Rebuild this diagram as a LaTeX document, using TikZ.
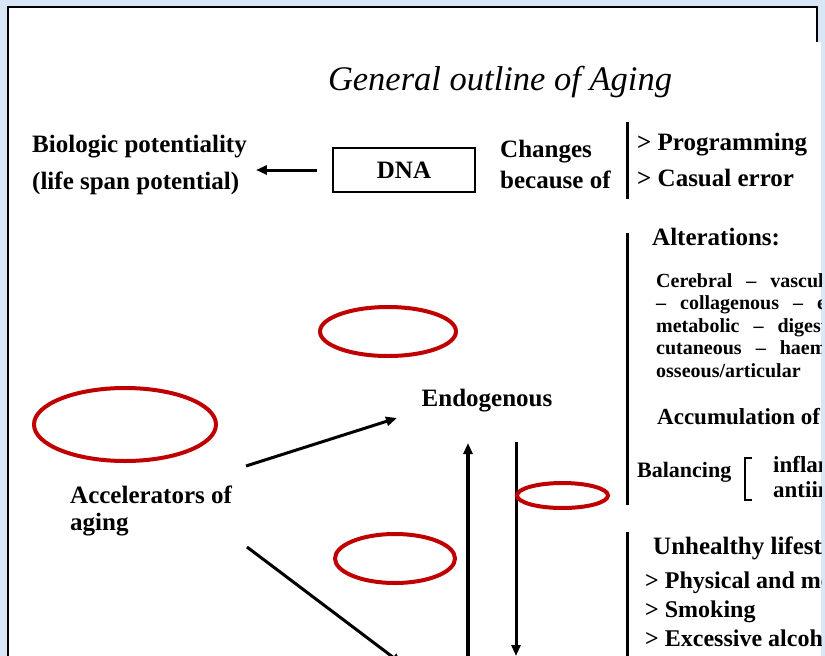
\documentclass[tikz,border=0pt]{standalone}
\usepackage{fontspec}
\setmainfont{Liberation Serif}
\usetikzlibrary{positioning, calc, arrows.meta}
\definecolor{slideblue}{RGB}{216,230,245}
\definecolor{markred}{RGB}{192,0,0}
% wide gaps round the dashes of the organ list
\newcommand{\orgsep}{\hspace{9pt} -- \hspace{9pt}}

\begin{document}
\begin{tikzpicture}[
    x=1pt, y=-1pt,
    % Text styles
    headtext/.style={font=\itshape\fontsize{34.5}{38}\selectfont, inner sep=0pt},
    txt/.style={font=\bfseries\fontsize{25}{31}\selectfont, inner sep=0pt, align=left},
    smalltxt/.style={font=\bfseries\fontsize{20}{22.5}\selectfont, inner sep=0pt, align=left},
    listtxt/.style={font=\bfseries\fontsize{24}{29}\selectfont, inner sep=0pt},
    % Box and bars
    dnabox/.style={draw, line width=2pt, minimum width=142pt, minimum height=44pt,
        inner sep=0pt, font=\bfseries\fontsize{25}{30}\selectfont},
    vbar/.style={line width=3pt},
    % Red marks
    redring/.style={draw=markred, line width=4pt},
    % Arrow style
    arrow/.style={-{Triangle[length=11pt, width=9pt]}, line width=3pt},
]

\useasboundingbox (0,0) rectangle (825,656);

% ===== SLIDE FRAME =====
\fill[slideblue] (0,0) rectangle (825,656);
\fill[white] (8,7) rectangle (817,42);
\fill[white] (9,42) rectangle (821,656);
\draw[line width=2pt] (8,656) -- (8,7) -- (817,7) -- (817,42);

\begin{scope}
\clip (9,42) rectangle (821,656);

% Title
\node[headtext, anchor=base] (title) at (500,90) {General outline of Aging};

% ===== TOP ROW: DNA =====
\node[dnabox] (dna) at (404,170) {DNA};
\node[txt, font=\bfseries\fontsize{25}{37}\selectfont, anchor=base west] (bio) at (32,189)
    {Biologic potentiality\\(life span potential)};
\node[txt, anchor=base west] (cause) at (500,188) {Changes\\because of};

% Left arrow to potentiality
\draw[arrow, shorten <=15pt, shorten >=9pt] (dna.west) -- (dna.west -| bio.east);

% Causes
\draw[vbar] (627,122) -- (627,199);
\node[txt, anchor=base west] (prog) at (637,150) {> Programming};
\node[txt, anchor=base west] (error) at (637,186) {> Casual error};

% ===== ENDOGENOUS BLOCK =====
\draw[vbar] (627,233) -- (627,505);
\node[txt, anchor=base west] (alter) at (652,245) {Alterations:};
\node[smalltxt, anchor=base west] (organs) at (656,377)
    {Cerebral\orgsep vascular\orgsep cardiac\\--\hspace{9pt} collagenous\orgsep endocrine\\metabolic\orgsep digestive\\cutaneous\orgsep haemopoietic\\osseous/articular};
\node[txt, font=\bfseries\fontsize{23}{28}\selectfont, anchor=base west] (accum) at (657,424) {Accumulation of};

% Balancing bracket
\node[txt, font=\bfseries\fontsize{22}{26}\selectfont, anchor=base west] (balance) at (637,477) {Balancing};
\draw[line width=2pt] (752,458) -- (745,458) -- (745,500) -- (752,500);
\node[smalltxt, font=\bfseries\fontsize{23}{25}\selectfont, anchor=base west] (infl) at (773,472) {inflammatory};
\node[smalltxt, font=\bfseries\fontsize{23}{25}\selectfont, anchor=base west] (antiinfl) at (773,497) {antiinflammatory};

% ===== LIFESTYLE BLOCK =====
\draw[vbar] (627,532) -- (627,660);
\node[txt, anchor=base west] (unhealthy) at (653,554) {Unhealthy lifestyle};
\node[listtxt, anchor=base west] (physical) at (645,588) {> Physical and mental};
\node[listtxt, anchor=base west] (smoking) at (645,617) {> Smoking};
\node[listtxt, anchor=base west] (alcohol) at (645,646) {> Excessive alcohol};

% ===== ACCELERATORS =====
\node[txt, anchor=base] (endo) at (487,406) {Endogenous};
\node[txt, font=\bfseries\fontsize{25}{27}\selectfont, anchor=base west] (accel) at (70,530) {Accelerators of\\aging};

% Arrow end points
\coordinate (accel-up) at (246,466);
\coordinate (endo-in) at (397,418);
\coordinate (accel-down) at (247,547);
\coordinate (exo-in) at (402,664);
\coordinate (exo-top) at (468,672);
\coordinate (endo-low) at (468,443);
\coordinate (endo-out) at (516,442);
\coordinate (exo-low) at (516,656);

\draw[arrow] (accel-up) -- (endo-in);
\draw[arrow] (accel-down) -- (exo-in);
\draw[arrow, line width=3.5pt] (exo-top) -- (endo-low);
\draw[arrow] (endo-out) -- (exo-low);

% ===== RED MARKS =====
\draw[redring] (125,424.5) ellipse [x radius=91pt, y radius=36.5pt];
\draw[redring] (388,331.5) ellipse [x radius=68pt, y radius=24.5pt];
\draw[redring] (395,558.5) ellipse [x radius=60pt, y radius=24.5pt];
\draw[redring] (562.5,495.5) ellipse [x radius=45.5pt, y radius=12.5pt];

\end{scope}

\end{tikzpicture}
\end{document}
